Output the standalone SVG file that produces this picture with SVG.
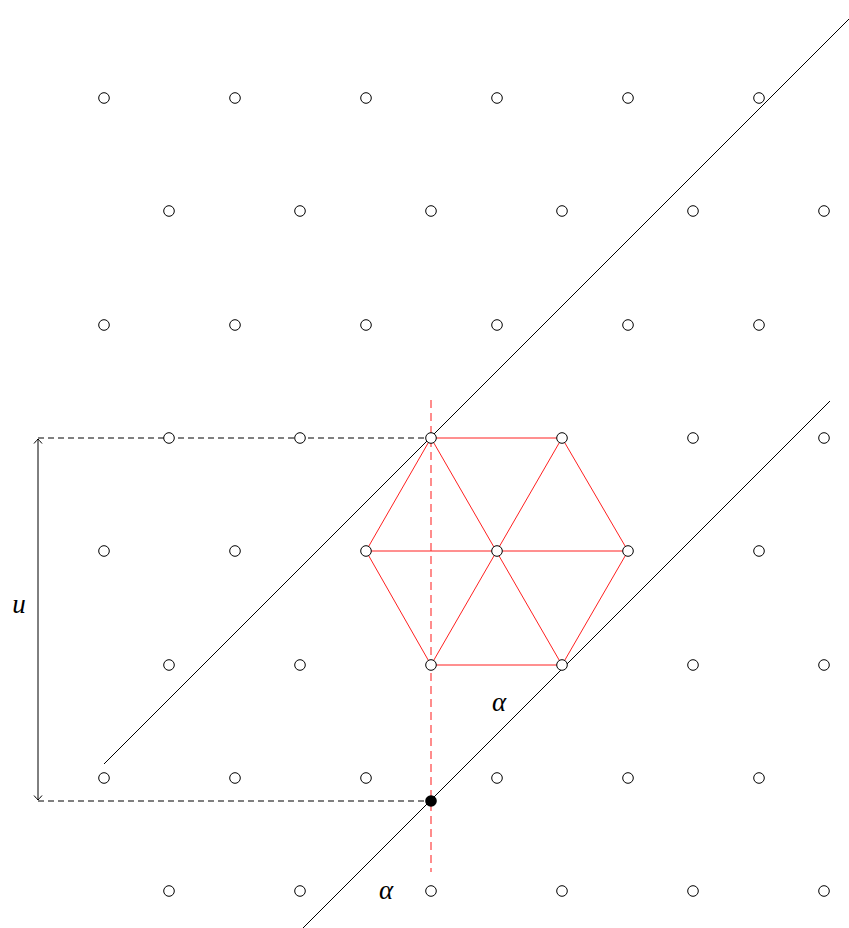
<svg xmlns="http://www.w3.org/2000/svg" width="849" height="928" viewBox="0 0 849 928">
<style>
.pt{fill:#fff;stroke:#000;stroke-width:1}
.hex{fill:none;stroke:#ff2020;stroke-width:1}
.ln{fill:none;stroke:#000;stroke-width:1}
.dash{fill:none;stroke:#000;stroke-width:1;stroke-dasharray:6 4}
.rdash{fill:none;stroke:#ff7070;stroke-width:1.6;stroke-dasharray:8 5}
.lbl{font-family:"Liberation Serif",serif;font-style:italic;font-size:27px;fill:#000}
</style>
<defs>
<marker id="tip" viewBox="-6 -5 8 10" markerWidth="8" markerHeight="10" refX="0" refY="0" orient="auto-start-reverse" markerUnits="userSpaceOnUse">
<path d="M-4.5,-4 Q-1,-1 0,0 Q-1,1 -4.5,4" fill="none" stroke="#000" stroke-width="1"/>
</marker>
</defs>
<rect width="849" height="928" fill="#fff"/>
<g id="connectors">
<line class="ln" x1="104" y1="764" x2="849" y2="19"/>
<line class="ln" x1="830" y1="401" x2="303" y2="928"/>
<line class="dash" x1="38" y1="438" x2="431" y2="438"/>
<line class="dash" x1="38" y1="801" x2="431" y2="801"/>
<line class="ln" x1="38" y1="439" x2="38" y2="800" marker-start="url(#tip)" marker-end="url(#tip)"/>
<line class="rdash" x1="431" y1="400" x2="431" y2="872"/>
<g id="hexagon">
<polygon class="hex" points="431,438 562,438 628,551 562,665 431,665 366,551"/>
<line class="hex" x1="431" y1="438" x2="562" y2="665"/>
<line class="hex" x1="562" y1="438" x2="431" y2="665"/>
<line class="hex" x1="366" y1="551" x2="628" y2="551"/>
</g>
</g>
<g id="lattice">
<g id="row1"><circle class="pt" cx="104" cy="98" r="5.3"/><circle class="pt" cx="235" cy="98" r="5.3"/><circle class="pt" cx="366" cy="98" r="5.3"/><circle class="pt" cx="497" cy="98" r="5.3"/><circle class="pt" cx="628" cy="98" r="5.3"/><circle class="pt" cx="759" cy="98" r="5.3"/></g>
<g id="row2"><circle class="pt" cx="169" cy="211" r="5.3"/><circle class="pt" cx="300" cy="211" r="5.3"/><circle class="pt" cx="431" cy="211" r="5.3"/><circle class="pt" cx="562" cy="211" r="5.3"/><circle class="pt" cx="693" cy="211" r="5.3"/><circle class="pt" cx="824" cy="211" r="5.3"/></g>
<g id="row3"><circle class="pt" cx="104" cy="325" r="5.3"/><circle class="pt" cx="235" cy="325" r="5.3"/><circle class="pt" cx="366" cy="325" r="5.3"/><circle class="pt" cx="497" cy="325" r="5.3"/><circle class="pt" cx="628" cy="325" r="5.3"/><circle class="pt" cx="759" cy="325" r="5.3"/></g>
<g id="row4"><circle class="pt" cx="169" cy="438" r="5.3"/><circle class="pt" cx="300" cy="438" r="5.3"/><circle class="pt" cx="431" cy="438" r="5.3"/><circle class="pt" cx="562" cy="438" r="5.3"/><circle class="pt" cx="693" cy="438" r="5.3"/><circle class="pt" cx="824" cy="438" r="5.3"/></g>
<g id="row5"><circle class="pt" cx="104" cy="551" r="5.3"/><circle class="pt" cx="235" cy="551" r="5.3"/><circle class="pt" cx="366" cy="551" r="5.3"/><circle class="pt" cx="497" cy="551" r="5.3"/><circle class="pt" cx="628" cy="551" r="5.3"/><circle class="pt" cx="759" cy="551" r="5.3"/></g>
<g id="row6"><circle class="pt" cx="169" cy="665" r="5.3"/><circle class="pt" cx="300" cy="665" r="5.3"/><circle class="pt" cx="431" cy="665" r="5.3"/><circle class="pt" cx="562" cy="665" r="5.3"/><circle class="pt" cx="693" cy="665" r="5.3"/><circle class="pt" cx="824" cy="665" r="5.3"/></g>
<g id="row7"><circle class="pt" cx="104" cy="778" r="5.3"/><circle class="pt" cx="235" cy="778" r="5.3"/><circle class="pt" cx="366" cy="778" r="5.3"/><circle class="pt" cx="497" cy="778" r="5.3"/><circle class="pt" cx="628" cy="778" r="5.3"/><circle class="pt" cx="759" cy="778" r="5.3"/></g>
<g id="row8"><circle class="pt" cx="169" cy="891" r="5.3"/><circle class="pt" cx="300" cy="891" r="5.3"/><circle class="pt" cx="431" cy="891" r="5.3"/><circle class="pt" cx="562" cy="891" r="5.3"/><circle class="pt" cx="693" cy="891" r="5.3"/><circle class="pt" cx="824" cy="891" r="5.3"/></g>
</g>
<g id="origin"><circle cx="431" cy="801" r="5.8" fill="#000"/></g>
<g id="labels">
<text class="lbl" x="19" y="613" text-anchor="middle">u</text>
<text class="lbl" x="499" y="711" text-anchor="middle">α</text>
<text class="lbl" x="386" y="899" text-anchor="middle">α</text>
</g>
</svg>
